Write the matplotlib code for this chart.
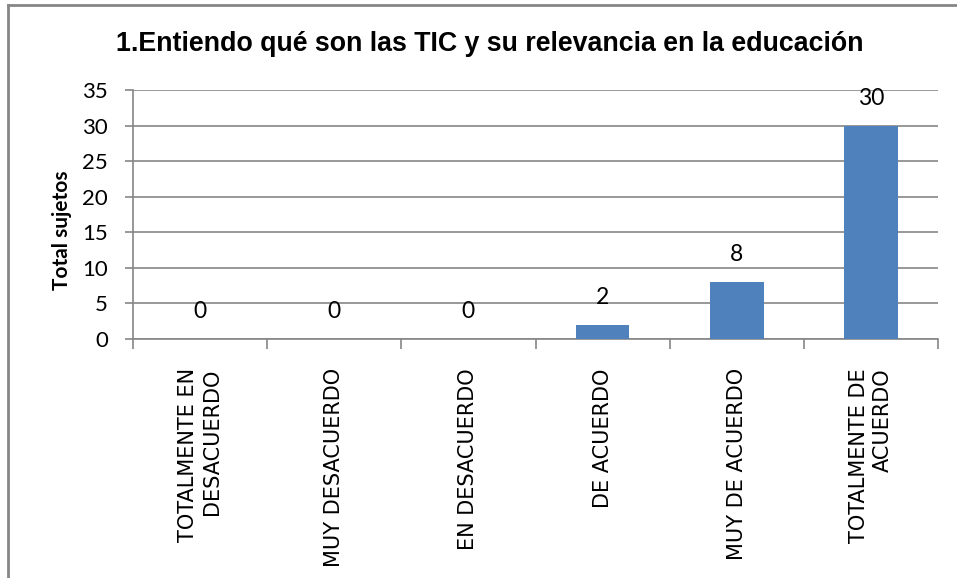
import matplotlib
matplotlib.use("Agg")
import matplotlib.pyplot as plt
from matplotlib.lines import Line2D
import numpy as np

categories = ["TOTALMENTE EN\nDESACUERDO", "MUY DESACUERDO", "EN DESACUERDO",
              "DE ACUERDO", "MUY DE ACUERDO", "TOTALMENTE DE\nACUERDO"]
values = [0, 0, 0, 2, 8, 30]
yticks = [0, 5, 10, 15, 20, 25, 30, 35]
title = "1.Entiendo qué son las TIC y su relevancia en la educación"
ylabel = "Total sujetos"

W, H = 957, 578
fig = plt.figure(figsize=(W / 100, H / 100), dpi=100)
ax = fig.add_axes([133 / W, 1 - 339 / H, (938 - 133) / W, (339 - 90) / H])

grey = "#868686"
x = np.arange(len(categories))
ax.bar(x, values, width=0.4, color="#4F81BD", zorder=3)
for xi, v in zip(x, values):
    ax.annotate(str(v), (xi, v), xytext=(0, 12), textcoords="offset points",
                ha="center", va="bottom", fontsize=16.5, family=["Lato", "DejaVu Sans"])

ax.set_xlim(-0.5, len(categories) - 0.5)
ax.set_ylim(0, 35)
ax.set_yticks(yticks)
ax.set_yticklabels([str(t) for t in yticks], fontsize=16, family=["Lato", "DejaVu Sans"])
ax.yaxis.grid(True, color=grey, linewidth=1.2, zorder=0)
ax.set_axisbelow(True)

ax.set_xticks(np.arange(-0.5, len(categories), 1.0))
ax.set_xticklabels([])
ax.set_xticks(x, minor=True)
ax.set_xticklabels(categories, minor=True, rotation=90, fontsize=15,
                   family=["DejaVu Sans"], multialignment="right", va="top", ha="center")
ax.tick_params(axis="x", which="minor", length=0, pad=21)
ax.tick_params(axis="x", which="major", length=7, color=grey, width=1.2)
ax.tick_params(axis="y", length=6, color=grey, width=1.2, pad=12)

for s in ["top", "right"]:
    ax.spines[s].set_visible(False)
for s in ["left", "bottom"]:
    ax.spines[s].set_color(grey)
    ax.spines[s].set_linewidth(1.2)

fig.text(62 / W, 1 - 230 / H, ylabel, rotation=90, ha="center", va="center",
         fontsize=15, fontweight="bold", family=["Lato", "DejaVu Sans"])
fig.text(490 / W, 1 - 44 / H, title, ha="center", va="center", fontsize=19.3,
         fontweight="bold", family=["Liberation Sans", "DejaVu Sans"])

fig.add_artist(Line2D([8 / W, 8 / W], [0, 1 - 5 / H], transform=fig.transFigure,
                      color=grey, linewidth=2))
fig.add_artist(Line2D([8 / W, 1], [1 - 5 / H, 1 - 5 / H], transform=fig.transFigure,
                      color=grey, linewidth=2))

fig.savefig("out.png", dpi=100)
